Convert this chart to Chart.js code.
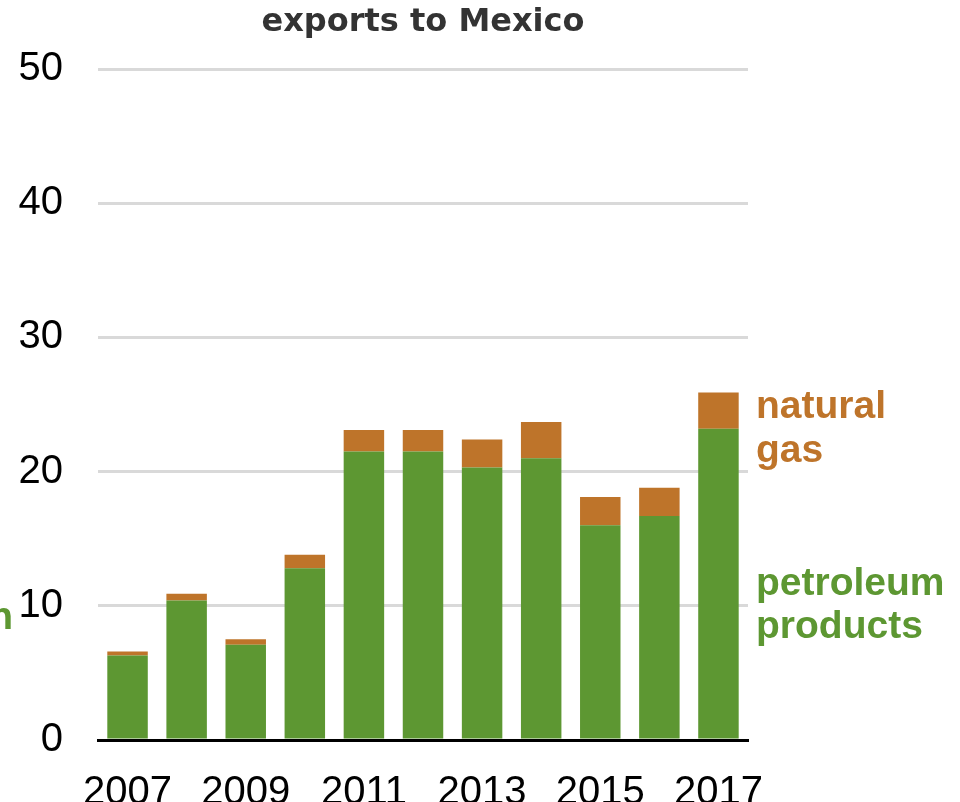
<!DOCTYPE html>
<html lang="en">
<head>
  <meta charset="UTF-8">
  <title>exports to Mexico</title>
  <script src="https://cdn.jsdelivr.net/npm/chart.js"></script>
  <style>
    body { margin: 0; background: #fff; }
    .wrap { width: 960px; height: 802px; position: relative; }
  </style>
</head>
<body>
<div class="wrap">
  <canvas id="chart"></canvas>
</div>
<script>
  // values
  const years = ['2007', '2008', '2009', '2010', '2011', '2012', '2013', '2014', '2015', '2016', '2017'];
  const shownYears = ['2007', '2009', '2011', '2013', '2015', '2017'];
  const petroleumProducts = [6.3, 10.4, 7.1, 12.8, 21.5, 21.5, 20.3, 21.0, 16.0, 16.7, 23.2];
  const naturalGas = [0.3, 0.5, 0.4, 1.0, 1.6, 1.6, 2.1, 2.7, 2.1, 2.1, 2.7];
  const yTicks = [0, 10, 20, 30, 40, 50];

  const GREEN = '#5d9732';
  const ORANGE = '#be742a';
  const tickFont = { family: '"Liberation Sans", Arial, sans-serif', size: 40 };

  // side labels, like the original's inline legend
  const sideLabels = {
    id: 'sideLabels',
    afterDraw(chart) {
      const { ctx, chartArea } = chart;
      ctx.save();
      ctx.font = 'bold 39px "Liberation Sans", Arial, sans-serif';
      ctx.textBaseline = 'alphabetic';
      ctx.textAlign = 'left';
      const x = chartArea.right + 8;
      ctx.fillStyle = ORANGE;
      ctx.fillText('natural', x, 418);
      ctx.fillText('gas', x, 462);
      ctx.fillStyle = GREEN;
      ctx.fillText('petroleum', x, 595);
      ctx.fillText('products', x, 638);
      // cut-off label on the left edge
      ctx.textAlign = 'right';
      ctx.fillText('n', 13, 629);
      ctx.restore();
    }
  };

  new Chart(document.getElementById('chart'), {
    type: 'bar',
    data: {
      labels: years,
      datasets: [
        { label: 'petroleum products', data: petroleumProducts, backgroundColor: GREEN },
        { label: 'natural gas', data: naturalGas, backgroundColor: ORANGE }
      ]
    },
    options: {
      responsive: true,
      maintainAspectRatio: false,
      animation: false,
      datasets: { bar: { categoryPercentage: 1, barPercentage: 0.685 } },
      layout: { padding: { left: 0, right: 212, top: 0, bottom: 0 } },
      plugins: {
        legend: { display: false },
        tooltip: { enabled: false },
        title: {
          display: true,
          text: 'exports to Mexico',
          fullSize: false,
          color: '#333',
          font: { family: '"DejaVu Sans", sans-serif', size: 32, weight: 'bold', lineHeight: 1.2 },
          padding: { top: 3, bottom: 27.6 }
        }
      },
      scales: {
        x: {
          stacked: true,
          z: 1,
          grid: { display: false },
          border: { display: true, color: '#000', width: 3 },
          ticks: {
            autoSkip: false,
            maxRotation: 0,
            padding: 25,
            color: '#000',
            font: { ...tickFont, lineHeight: 1 },
            callback(v, i) {
              const y = years[i];
              return shownYears.includes(y) ? y : '';
            }
          },
          afterFit(scale) { scale.height = 62; }
        },
        y: {
          stacked: true,
          min: 0,
          max: 50,
          afterBuildTicks(scale) { scale.ticks = yTicks.map(v => ({ value: v })); },
          grid: {
            drawTicks: false,
            color: ctx => ctx.tick && ctx.tick.value === 0 ? 'rgba(0,0,0,0)' : '#d9d9d9',
            lineWidth: 3
          },
          border: { display: false },
          ticks: { padding: 35, color: '#000', font: tickFont },
          afterFit(scale) { scale.width = 98; }
        }
      }
    },
    plugins: [sideLabels]
  });
</script>
</body>
</html>
